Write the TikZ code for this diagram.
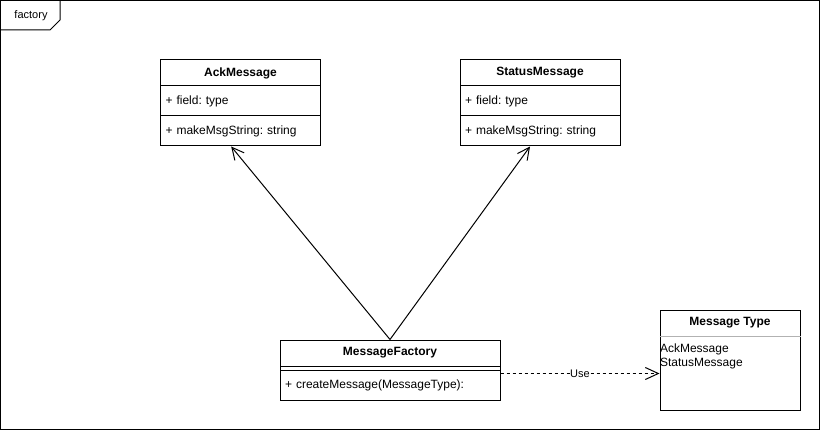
\documentclass[tikz,border=0pt]{standalone}
\usepackage{fontspec}
\setmainfont{Liberation Sans}
\frenchspacing
\usetikzlibrary{arrows.meta}
\newcommand{\umlfont}{\fontsize{9}{10.5}\selectfont\frenchspacing}
\newcommand{\tagfont}{\fontsize{8.25}{10}\selectfont}
\tikzstyle{classhead}=[draw, rectangle, minimum height=19.5pt, inner sep=0pt, font=\umlfont\bfseries]
\tikzstyle{classpart}=[draw, rectangle, inner xsep=3.75pt, inner ysep=0pt, align=left, font=\umlfont]
\tikzstyle{inherit}=[-{Straight Barb[length=9pt,width=9pt]}]
\tikzstyle{use}=[-{Straight Barb[length=9.75pt,width=9pt]}, dash pattern=on 2.25pt off 2.25pt]

\begin{document}
\begin{tikzpicture}[x=0.75pt, y=-0.75pt, line width=0.75pt]
  \useasboundingbox (0,0) rectangle (821,431);
  %% Frame
  \draw (410,215) node[draw, minimum width=614.25pt, minimum height=321.75pt, inner sep=0pt] (Frame) {};
  \draw (Frame.north west) ++(60,0) -- ++(0,20) -- ++(-10,10) -- ++(-50,0);
  \draw (31,16) node[font=\tagfont] (FrameLabel) {factory};

  \draw (240.5,73) node[classhead, minimum width=120pt] (AckHead) {AckMessage};
  \draw (240.5,101) node[classpart, text width=112.5pt, minimum height=22.5pt] (AckField) {+ field: type};
  \draw (240.5,131) node[classpart, text width=112.5pt, minimum height=22.5pt] (AckMeth) {+ makeMsgString: string};

  \draw (540,73) node[classhead, minimum width=120pt] (StatHead) {StatusMessage};
  \draw (540,101) node[classpart, text width=112.5pt, minimum height=22.5pt] (StatField) {+ field: type};
  \draw (540,131) node[classpart, text width=112.5pt, minimum height=22.5pt] (StatMeth) {+ makeMsgString: string};

  \draw (390,353) node[classhead, minimum width=165pt] (MFHead) {MessageFactory};
  \draw (390,368) node[classpart, minimum width=165pt, minimum height=3pt] (MFAttr) {};
  \draw (390,385) node[classpart, text width=157.5pt, minimum height=22.5pt] (MFMeth) {+ createMessage(MessageType):};

  %% Enumeration box
  \draw (730,360) node[draw, minimum width=105pt, minimum height=75pt, inner sep=0pt] (MTBox) {};
  \draw (730,323) node[classhead, draw=none, minimum width=105pt] (MTHead) {Message Type};
  \draw[gray!60] (MTHead.south west) -- (MTHead.south east);
  \node[anchor=north west, inner sep=0pt, align=left, font=\umlfont] (MTItems) at ([yshift=-5pt]MTHead.south west) {AckMessage\\StatusMessage};

  %% Connectors
  \draw[inherit] (MFHead.north) -- ([xshift=-7pt]AckMeth.south);
  \draw[inherit] (MFHead.north) -- ([xshift=-7.5pt]StatMeth.south);
  \coordinate (UseStart) at ([yshift=-3pt]MFMeth.north east);
  \draw[use] (UseStart) -- (UseStart -| MTBox.west) node[midway, fill=white, inner sep=0.5pt, font=\tagfont] (UseLabel) {Use};
\end{tikzpicture}
\end{document}
